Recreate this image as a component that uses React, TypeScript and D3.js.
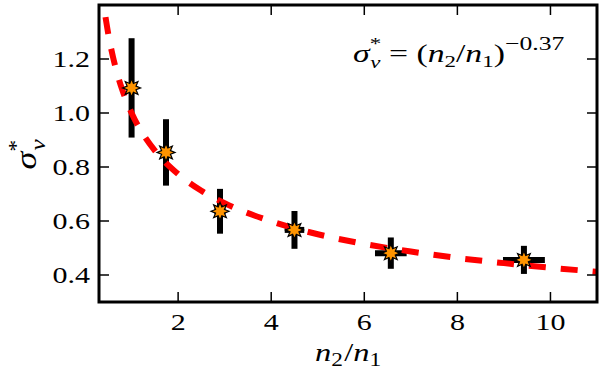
import React from 'react';
import * as d3 from 'd3';

// measured points
const ratio = [1.0, 1.74, 2.9, 4.5, 6.57, 9.43];
const ratioErr = [0.05, 0.08, 0.12, 0.21, 0.34, 0.45];
const sigma = [1.093, 0.854, 0.636, 0.567, 0.481, 0.456];
const sigmaErr = [0.184, 0.123, 0.083, 0.07, 0.058, 0.052];

// power-law fit
const fitX = [0.44, 0.5, 0.6, 0.7, 0.8, 1, 1.25, 1.5, 2, 2.5, 3, 4, 5, 6, 7, 8, 9, 10, 11];
const fitY = [1.355, 1.292, 1.208, 1.141, 1.086, 1.0, 0.921, 0.861, 0.774, 0.712, 0.666, 0.599, 0.551, 0.515, 0.487, 0.463, 0.444, 0.427, 0.412];

const xTicks = [2, 4, 6, 8, 10];
const yTicks = [0.4, 0.6, 0.8, 1.0, 1.2];

const W = 600, H = 373;
const margin = { top: 5, right: 3, bottom: 71, left: 99 };
const serif = { fontFamily: "'Liberation Serif', 'Times New Roman', Times, serif" };
const SX = 1.25; // the original type is set rather wide

function starPath(outer: number, inner: number, n: number) {
  const pts: [number, number][] = [];
  for (let i = 0; i < n * 2; i++) {
    const a = (i * Math.PI) / n;
    pts.push([a, i % 2 === 0 ? outer : inner]);
  }
  return d3.lineRadial().curve(d3.curveLinearClosed)(pts) as string;
}

export default function App() {
  const x = d3.scaleLinear().domain([0.3, 11]).range([margin.left, W - margin.right]);
  const y = d3.scaleLinear().domain([0.3, 1.4]).range([H - margin.bottom, margin.top]);
  const x0 = margin.left, x1 = W - margin.right, y0 = H - margin.bottom, y1 = margin.top;

  const fitLine = d3.line<number>()
    .x((d, i) => x(fitX[i]))
    .y(d => y(d))
    .curve(d3.curveMonotoneX)(fitY) as string;

  const star = starPath(9, 4.8, 8);
  const tick = 10;

  return (
    <svg width={W} height={H} style={{ position: 'absolute', left: 0, top: 0, background: 'white' }}>
      <defs>
        <clipPath id="plot">
          <rect x={x0} y={y1} width={x1 - x0} height={y0 - y1} />
        </clipPath>
      </defs>

      {/* error bars */}
      <g stroke="black" strokeWidth={6}>
        {ratio.map((r, i) => (
          <g key={i}>
            <line x1={x(r)} x2={x(r)} y1={y(sigma[i] - sigmaErr[i])} y2={y(sigma[i] + sigmaErr[i])} />
            <line x1={x(r - ratioErr[i])} x2={x(r + ratioErr[i])} y1={y(sigma[i])} y2={y(sigma[i])} />
          </g>
        ))}
      </g>

      {/* fit */}
      <path d={fitLine} fill="none" stroke="#ff0000" strokeWidth={6} strokeDasharray="17,15"
        clipPath="url(#plot)" />

      {/* markers */}
      {ratio.map((r, i) => (
        <path key={i} d={star} transform={`translate(${x(r)},${y(sigma[i])})`}
          fill="#ff9400" stroke="black" strokeWidth={1.2} strokeLinejoin="miter" />
      ))}

      {/* ticks */}
      <g stroke="black" strokeWidth={1.5}>
        {xTicks.map(t => (
          <g key={t}>
            <line x1={x(t)} x2={x(t)} y1={y0} y2={y0 - tick} />
            <line x1={x(t)} x2={x(t)} y1={y1} y2={y1 + tick} />
          </g>
        ))}
        {yTicks.map(t => (
          <g key={t}>
            <line x1={x0} x2={x0 + tick} y1={y(t)} y2={y(t)} />
            <line x1={x1} x2={x1 - tick} y1={y(t)} y2={y(t)} />
          </g>
        ))}
      </g>
      <rect x={x0} y={y1} width={x1 - x0} height={y0 - y1} fill="none" stroke="black" strokeWidth={3} />

      {/* tick labels */}
      <g fontSize={24} fill="black">
        {xTicks.map(t => (
          <text key={t} style={serif} transform={`translate(${x(t)},${y0 + 28}) scale(${SX},1)`}
            textAnchor="middle">{t}</text>
        ))}
        {yTicks.map(t => (
          <text key={t} style={serif} transform={`translate(${x0 - 9},${y(t) + 8}) scale(${SX},1)`}
            textAnchor="end">
            {d3.format('.1f')(t)}
          </text>
        ))}
      </g>

      {/* x label */}
      <text style={serif} transform={`translate(${(x0 + x1) / 2},361) scale(1.3,1)`} textAnchor="middle"
        fontSize={25} fontStyle="italic">
        n<tspan fontSize={18} fontStyle="normal" dy={5}>2</tspan>
        <tspan dy={-5} fontStyle="normal" dx={1}>/</tspan>n
        <tspan fontSize={18} fontStyle="normal" dy={5}>1</tspan>
      </text>

      {/* y label */}
      <text style={serif} transform={`translate(36,${(y0 + y1) / 2 + 16}) rotate(-90) scale(1.2,1)`}
        fontSize={30} fontStyle="italic">
        σ<tspan fontSize={20} fontStyle="normal" dy={-13}>*</tspan>
        <tspan fontSize={21} dx={-9} dy={22}>v</tspan>
      </text>

      {/* annotation */}
      <text style={serif} transform={`translate(353,62) scale(1.35,1)`} fontSize={25} fontStyle="italic">
        σ<tspan fontSize={17} fontStyle="normal" dy={-13}>*</tspan>
        <tspan fontSize={17} dx={-8} dy={19}>v</tspan>
        <tspan fontStyle="normal" dy={-6}>{' = ('}</tspan>n
        <tspan fontSize={17} fontStyle="normal" dy={5}>2</tspan>
        <tspan fontStyle="normal" dy={-5}>/</tspan>n
        <tspan fontSize={17} fontStyle="normal" dy={5}>1</tspan>
        <tspan fontStyle="normal" dy={-5}>)</tspan>
        <tspan fontSize={19} fontStyle="normal" dy={-12}>−0.37</tspan>
      </text>
    </svg>
  );
}
